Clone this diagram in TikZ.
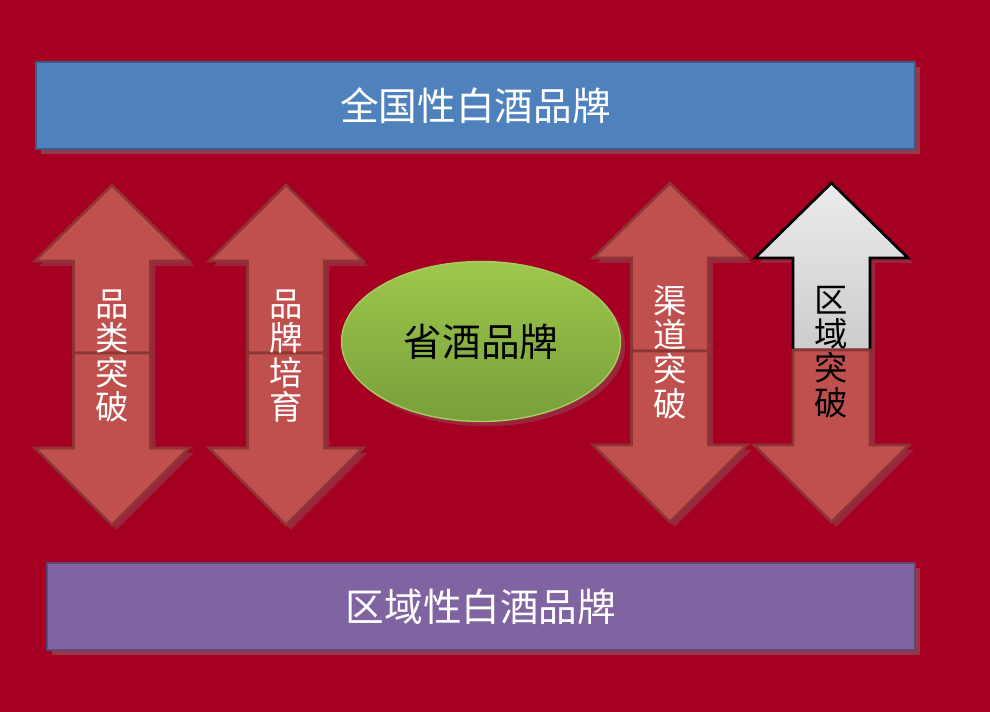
\documentclass[tikz,border=0pt]{standalone}
\usepackage{fontspec}
\setmainfont{Noto Sans CJK SC}
\usepackage{tikz}
\usetikzlibrary{shapes.geometric,shadows}
\definecolor{bgred}{HTML}{A50021}
\definecolor{arrowred}{HTML}{C0504D}
\definecolor{arrowline}{HTML}{8C3534}
\definecolor{bannerblue}{HTML}{4F81BD}
\definecolor{bannerblueline}{HTML}{385D8A}
\definecolor{bannerpurple}{HTML}{8064A2}
\definecolor{bannerpurpleline}{HTML}{5C4776}
\definecolor{ovaltop}{HTML}{9DC74C}
\definecolor{ovalbottom}{HTML}{789F3A}
\definecolor{ovalline}{HTML}{A6CC62}

\begin{document}
\begin{tikzpicture}[x=0.02cm,y=-0.02cm]
\tikzstyle{Banner}=[draw, line width=1.6pt, text=white, font=\fontsize{22}{26}\selectfont, drop shadow={opacity=0.45}];
\tikzstyle{Arrow}=[draw=arrowline, line width=1.5pt, fill=arrowred, line join=miter, drop shadow={opacity=0.3}];
\tikzstyle{Word}=[align=center, font=\fontsize{19}{19.5}\selectfont, inner sep=0pt];
\fill[bgred] (0,0) rectangle (990,712);
\useasboundingbox (0,0) rectangle (990,712);
% banners
\node[Banner, fill=bannerblue, draw=bannerblueline, minimum width=17.58cm, minimum height=1.74cm] (national) at (475.5,105.5) {全国性白酒品牌};
\node[Banner, fill=bannerpurple, draw=bannerpurpleline, minimum width=17.36cm, minimum height=1.74cm] (regional) at (481,606.5) {区域性白酒品牌};
% double arrows: centre, up tip, up head base, seam, down head base, down tip
\foreach \cx/\tp/\hb/\md/\db/\dt in {112/185/261/353/448/525, 286/185/261/353/448/525, 670/183/258/351/445/522}{
  \draw[Arrow] ({\cx-38.5},\md) -- ({\cx-38.5},\hb) -- ({\cx-77},\hb) -- (\cx,\tp) -- ({\cx+77},\hb) -- ({\cx+38.5},\hb) -- ({\cx+38.5},\md) -- cycle;
  \draw[Arrow] ({\cx-38.5},\md) -- ({\cx-38.5},\db) -- ({\cx-77},\db) -- (\cx,\dt) -- ({\cx+77},\db) -- ({\cx+38.5},\db) -- ({\cx+38.5},\md) -- cycle;
}
% last one: grey up, red down
\draw[draw=black, line width=1.5pt, line join=miter, top color=gray!15, bottom color=gray!40, drop shadow={opacity=0.3}] (793,350) -- (793,258) -- (755,258) -- (831.5,183) -- (908,258) -- (870,258) -- (870,350) -- cycle;
\draw[Arrow] (793,350) -- (793,445) -- (754,445) -- (831.5,522) -- (909,445) -- (870,445) -- (870,350) -- cycle;
% arrow words
\node[Word, text=white] (category) at (112,356) {品\\类\\突\\破};
\node[Word, text=white] (brand) at (286,356) {品\\牌\\培\\育};
\node[Word, text=white] (channel) at (670,352) {渠\\道\\突\\破};
\node[Word, text=black] (region) at (831.5,352) {区\\域\\突\\破};
% centre
\node[ellipse, draw=ovalline, line width=0.8pt, top color=ovaltop, bottom color=ovalbottom, minimum width=5.58cm, minimum height=3.2cm, inner sep=0pt, font=\fontsize{22}{26}\selectfont, drop shadow={opacity=0.3}] (province) at (481,341.5) {省酒品牌};
\end{tikzpicture}
\end{document}
